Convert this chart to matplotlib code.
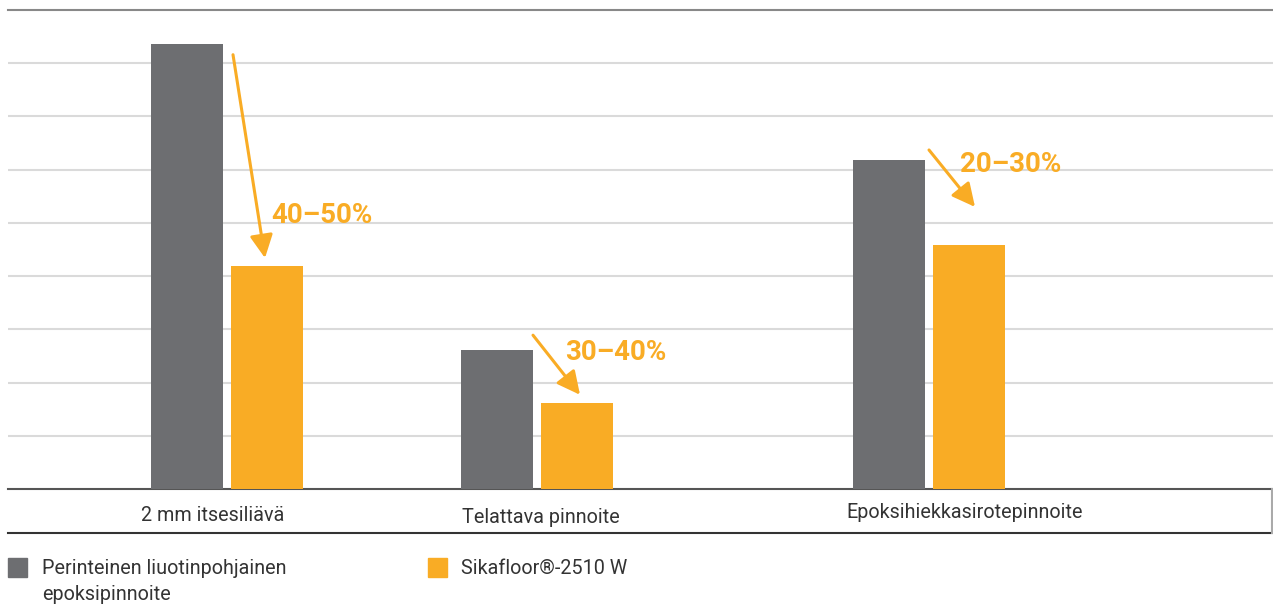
import matplotlib
matplotlib.use("Agg")
import matplotlib.pyplot as plt
from matplotlib.patches import Rectangle
from matplotlib.lines import Line2D

categories = ["2 mm itsesiliävä", "Telattava pinnoite", "Epoksihiekkasirotepinnoite"]
traditional = [8.36, 2.61, 6.18]
sikafloor = [4.19, 1.62, 4.59]
reductions = ["40–50%", "30–40%", "20–30%"]
legend_labels = ["Perinteinen liuotinpohjainen\nepoksipinnoite", "Sikafloor®-2510 W"]

GREY = "#6D6E71"
ORANGE = "#F9AC25"
TEXT = "#333333"
FONT = ["Roboto", "DejaVu Sans"]

W, H = 1273, 605
fig = plt.figure(figsize=(W / 100, H / 100), dpi=100)
ax = fig.add_axes([8 / W, 1 - 489 / H, 1265 / W, 479 / H])

# layout (pixel-like data units on x)
centers = [218.5, 528.5, 920.5]
bw = 72
off = 40
label_x = [205, 533, 957]
label_y = [-0.056, -0.060, -0.050]
ann_start = [(225, 8.16), (525, 2.89), (921, 6.37)]
ann_end = [(257, 4.34), (572, 1.77), (967, 5.30)]
ann_text = [(263, 5.14), (557, 2.56), (952, 6.09)]

ax.set_xlim(0, 1265)
ax.set_ylim(0, 9)

for i in range(len(categories)):
    ax.bar(centers[i] - off, traditional[i], width=bw, color=GREY, zorder=3)
    ax.bar(centers[i] + off, sikafloor[i], width=bw, color=ORANGE, zorder=3)

ax.set_yticks(range(1, 9))
ax.yaxis.grid(True, color="#DADADA", linewidth=1.5, zorder=0)
ax.set_xticks([])
ax.tick_params(axis="y", length=0, labelleft=False)
for s in ["left", "right"]:
    ax.spines[s].set_visible(False)
ax.spines["top"].set_color("#888888")
ax.spines["top"].set_linewidth(1.5)
ax.spines["bottom"].set_color("#555555")
ax.spines["bottom"].set_linewidth(1.5)

for i, c in enumerate(categories):
    ax.text(label_x[i], label_y[i], c, transform=ax.get_xaxis_transform(),
            ha="center", va="center", fontsize=14.2, color=TEXT, family=FONT)

for i in range(3):
    ax.annotate("", xy=ann_end[i], xytext=ann_start[i],
                arrowprops=dict(arrowstyle="-|>,head_length=1.4,head_width=0.7",
                                color=ORANGE, lw=2.2, shrinkA=0, shrinkB=0),
                zorder=5)
    ax.text(ann_text[i][0], ann_text[i][1], reductions[i], ha="left", va="center",
            fontsize=20, fontweight="bold", color=ORANGE, family=FONT, zorder=5)

# label row frame
yb = 1 - 533 / H
fig.add_artist(Line2D([8 / W, 1.0], [yb, yb], color="#333333", lw=1.5))
fig.add_artist(Line2D([1271.5 / W, 1271.5 / W], [yb, 1 - 489 / H], color="#AAAAAA", lw=1.5))

# legend
fig.add_artist(Rectangle((8 / W, 1 - 577 / H), 19 / W, 19 / H, color=GREY, transform=fig.transFigure))
for j, line in enumerate(legend_labels[0].split("\n")):
    fig.text(42 / W, 1 - (568 + 26 * j) / H, line, ha="left", va="center", fontsize=14.2,
             color=TEXT, family=FONT)
fig.add_artist(Rectangle((428 / W, 1 - 577 / H), 19 / W, 19 / H, color=ORANGE, transform=fig.transFigure))
fig.text(461 / W, 1 - 568 / H, legend_labels[1], ha="left", va="center", fontsize=14.2,
         color=TEXT, family=FONT)

fig.savefig("out.png", dpi=100)
